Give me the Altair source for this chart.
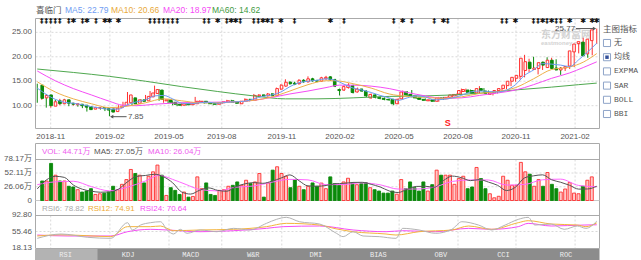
import altair as alt
import pandas as pd

# ---------------- weekly candles (index 0 .. 124) ----------------
opens = [14.2, 11.6, 12.2, 9.9, 11.0, 10.4, 11.2, 10.5, 10.2, 10.3,
         10.1, 9.8, 9.3, 9.5, 9.6, 9.4, 9.3, 8.8, 9.6, 10.0,
         10.6, 11.6, 10.5, 11.2, 11.0, 11.8, 12.5, 13.2, 11.0, 11.2,
         10.7, 10.3, 10.1, 10.4, 10.2, 10.4, 10.8, 10.9, 10.6, 10.4,
         10.3, 10.6, 10.7, 11.0, 10.8, 10.4, 10.9, 11.3, 11.1, 12.0,
         12.2, 12.0, 12.4, 12.1, 13.4, 14.0, 14.8, 14.6, 14.5, 15.2,
         14.9, 15.5, 15.1, 15.0, 15.5, 15.9, 15.3, 13.3, 13.2, 13.7,
         14.1, 12.8, 13.4, 13.0, 11.6, 12.2, 11.7, 11.5, 11.3, 11.3,
         10.4, 11.4, 12.8, 12.3, 12.0, 11.6, 11.3, 11.0, 11.2, 10.9,
         11.6, 11.4, 11.7, 12.0, 12.4, 12.9, 13.2, 13.1, 12.6, 13.5,
         13.0, 12.3, 12.6, 13.1, 13.5, 14.1, 15.0, 15.6, 16.0, 17.2,
         18.9, 17.4, 17.6, 18.9, 17.8, 19.3, 17.7, 17.3, 17.7, 18.1,
         21.0, 22.7, 23.0, 20.6, 23.3]
closes = [11.5, 12.1, 10.0, 10.8, 10.4, 11.2, 10.5, 10.3, 10.4, 10.0,
          9.7, 9.2, 9.6, 9.6, 9.4, 9.1, 8.7, 9.5, 9.9, 10.7,
          12.2, 10.4, 11.2, 10.9, 11.9, 12.6, 13.3, 11.3, 11.2, 10.7,
          10.3, 10.1, 10.4, 10.2, 10.4, 10.9, 10.9, 10.6, 10.4, 10.3,
          10.6, 10.8, 11.0, 10.7, 10.5, 10.9, 11.3, 11.1, 12.1, 12.2,
          12.0, 12.4, 12.1, 13.5, 14.2, 14.8, 14.5, 14.4, 15.2, 14.9,
          15.5, 15.1, 15.0, 15.7, 15.8, 15.3, 14.0, 13.1, 13.9, 14.2,
          12.7, 13.4, 13.0, 12.0, 12.3, 11.7, 11.5, 11.3, 11.2, 10.4,
          11.3, 12.8, 12.2, 11.9, 11.6, 11.3, 11.1, 11.2, 10.9, 11.6,
          11.4, 11.7, 12.2, 12.3, 13.1, 13.3, 12.7, 12.5, 13.5, 13.1,
          12.5, 12.6, 13.1, 13.5, 14.2, 15.0, 15.8, 16.2, 19.7, 19.0,
          17.6, 17.7, 18.8, 18.3, 19.3, 17.6, 17.3, 17.7, 18.0, 21.2,
          22.6, 23.1, 20.2, 23.6, 25.5]
highs = [14.5, 12.6, 12.4, 11.0, 11.2, 11.4, 11.4, 10.7, 10.6, 10.4,
         10.3, 10.0, 9.8, 9.8, 9.7, 9.5, 9.4, 9.6, 10.1, 10.8,
         12.8, 11.8, 11.4, 11.3, 12.2, 13.0, 14.1, 13.4, 11.5, 11.3,
         10.9, 10.5, 10.6, 10.6, 10.5, 11.8, 11.1, 11.0, 10.7, 10.5,
         10.7, 10.9, 11.2, 11.2, 10.9, 11.0, 11.5, 11.4, 12.4, 12.3,
         12.3, 12.6, 12.6, 13.7, 14.4, 15.4, 15.0, 14.9, 15.4, 15.4,
         16.0, 15.7, 15.3, 15.9, 16.1, 16.0, 15.5, 13.5, 14.2, 14.6,
         14.3, 13.7, 13.5, 13.1, 12.5, 12.4, 11.9, 11.7, 11.5, 11.4,
         11.5, 13.1, 13.0, 13.2, 12.1, 11.8, 11.5, 11.3, 11.3, 11.8,
         11.8, 11.9, 12.4, 12.5, 13.5, 13.5, 13.3, 13.2, 14.0, 13.6,
         13.1, 12.8, 13.2, 13.6, 14.4, 15.3, 16.0, 16.4, 20.4, 19.6,
         20.0, 18.6, 19.0, 19.9, 19.8, 19.5, 17.9, 18.0, 18.2, 21.6,
         23.0, 23.9, 23.3, 24.4, 25.77]
lows = [10.6, 11.2, 9.6, 9.6, 10.2, 10.1, 10.3, 9.9, 10.0, 9.8,
        9.5, 8.8, 9.2, 9.3, 9.2, 8.9, 7.85, 8.6, 9.4, 9.9,
        10.4, 10.1, 10.3, 10.7, 10.9, 11.6, 12.3, 11.0, 10.6, 10.5,
        10.1, 9.9, 9.9, 10.0, 10.1, 10.3, 10.6, 10.4, 10.3, 10.1,
        10.2, 10.4, 10.6, 10.6, 10.4, 10.3, 10.8, 10.9, 11.0, 11.8,
        11.8, 11.9, 11.9, 12.0, 13.2, 13.9, 14.3, 14.2, 14.3, 14.7,
        14.7, 14.9, 14.8, 14.9, 15.3, 15.1, 13.8, 12.1, 13.0, 13.5,
        12.5, 12.7, 12.8, 11.8, 11.4, 11.5, 11.3, 11.1, 11.0, 10.1,
        10.3, 11.3, 12.0, 11.7, 11.4, 11.2, 11.0, 10.9, 10.8, 10.8,
        11.2, 11.3, 11.6, 11.9, 12.3, 12.8, 12.5, 12.3, 12.5, 12.9,
        12.3, 12.1, 12.5, 13.0, 13.4, 14.0, 14.9, 15.4, 15.8, 16.9,
        17.3, 16.4, 17.3, 18.0, 17.5, 17.3, 16.3, 17.1, 17.5, 17.9,
        20.7, 22.4, 19.8, 20.3, 22.6]
volumes = [37, 37, 70.4, 48, 37, 37, 27, 25.6, 20.5, 16,
           18, 22.4, 11.5, 12.8, 14, 16, 27, 20.5, 30.7, 39.7,
           58.9, 51.2, 48, 33.3, 46, 54.4, 67.2, 48, 9.6, 24.3,
           19.2, 11.5, 16, 6.4, 7.7, 44.8, 22.4, 33.3, 11.5, 9.6,
           19.2, 20.5, 27, 28.8, 35.2, 28.8, 38.4, 32, 35.2, 51.2,
           6.4, 33.3, 57.6, 64, 51.2, 46, 24.3, 39.7, 27, 20.5,
           27, 33.3, 27, 33, 22.4, 44.8, 32, 28.8, 35.2, 42.2,
           33.3, 30, 32, 33.9, 24.3, 20.5, 17.9, 14, 14, 17.9,
           12, 39.7, 22.4, 35.2, 24.3, 17.9, 35.2, 17.9, 30, 57.6,
           48, 48, 48, 30.7, 41.6, 46, 22.4, 25.6, 62.7, 41.6,
           22.4, 12.8, 5.1, 8, 46, 38.4, 28.8, 28.8, 72.3, 54.4,
           49.9, 27, 39.7, 27, 53.1, 30.7, 22.4, 16, 21.8, 34,
           14, 12.8, 27, 38.4, 44.8]

# ---------------- moving averages / indicators ----------------
ma5_idx = [0, 2, 4, 6, 8, 10, 12, 14, 16, 18, 20, 22, 24, 26, 28, 30, 32, 34, 36, 38, 40,
           42, 44, 46, 48, 50, 52, 54, 56, 58, 60, 62, 64, 66, 68, 70, 72, 74, 76, 78, 80,
           82, 84, 86, 88, 90, 92, 94, 96, 98, 100, 102, 104, 106, 108, 110, 112, 114, 116,
           118, 120, 122, 124]
ma5_val = [13.6, 12.3, 11.3, 10.7, 10.5, 10.2, 9.8, 9.5, 9.3, 9.3, 10.2, 10.8, 11.2, 12.0,
           12.1, 11.4, 10.5, 10.4, 10.6, 10.7, 10.5, 10.7, 10.8, 10.9, 11.4, 11.9, 12.2,
           12.8, 13.9, 14.7, 15.0, 15.2, 15.5, 15.2, 14.4, 13.6, 13.2, 12.7, 12.1, 11.6,
           11.1, 11.6, 12.0, 11.8, 11.2, 11.3, 11.6, 12.1, 12.8, 13.0, 12.9, 12.8, 13.2,
           14.3, 16.2, 17.3, 18.6, 18.5, 18.3, 18.0, 19.4, 21.0, 22.79]
ma10_idx = [0, 4, 8, 12, 16, 20, 24, 28, 32, 36, 40, 44, 48, 52, 56, 60, 64, 66, 70, 74,
            78, 82, 86, 90, 94, 98, 102, 106, 110, 114, 118, 121, 124]
ma10_val = [14.9, 12.8, 11.4, 10.4, 9.6, 9.9, 10.6, 11.4, 11.0, 10.6, 10.6, 10.8, 11.1,
            11.8, 13.0, 14.3, 15.1, 15.1, 14.5, 13.6, 12.4, 11.9, 11.7, 11.5, 11.8, 12.5,
            12.9, 13.7, 15.5, 17.4, 17.9, 18.9, 20.66]
ma20_idx = [0, 4, 8, 12, 16, 19, 22, 26, 32, 38, 44, 48, 52, 56, 60, 64, 67, 70, 74, 78,
            82, 86, 90, 94, 98, 102, 106, 110, 114, 118, 121, 124]
ma20_val = [17.1, 15.1, 13.5, 12.2, 10.9, 10.1, 10.0, 10.3, 10.6, 10.7, 10.8, 11.1, 11.7,
            12.4, 13.0, 13.7, 14.2, 14.2, 14.0, 13.5, 12.7, 12.0, 11.5, 11.6, 12.1, 12.6,
            13.2, 14.3, 15.6, 16.7, 17.8, 18.97]
ma60_idx = [0, 8, 16, 24, 32, 40, 48, 55, 62, 70, 78, 86, 92, 100, 107, 114, 120, 124]
ma60_val = [17.5, 16.8, 16.0, 15.0, 13.9, 12.9, 12.0, 11.4, 11.4, 11.6, 11.9, 12.0, 12.2,
            12.7, 13.3, 13.8, 14.3, 14.62]

vma5_idx = [0, 2, 4, 6, 8, 10, 12, 14, 16, 18, 20, 22, 24, 26, 28, 30, 32, 34, 36, 38, 40,
            42, 44, 46, 48, 50, 52, 54, 56, 58, 60, 62, 64, 66, 68, 70, 72, 74, 76, 78, 80,
            82, 84, 86, 88, 90, 92, 94, 96, 98, 100, 102, 104, 106, 108, 110, 112, 114, 116,
            118, 120, 122, 124]
vma5_val = [22, 38.9, 45.9, 43.9, 29.4, 21.4, 17.7, 15.7, 16.3, 21.6, 35.4, 45.7, 47.5,
            49.8, 45.0, 33.7, 16.1, 12.2, 19.5, 23.9, 19.2, 17.6, 26.1, 31.6, 33.9, 32.6,
            36.7, 42.5, 48.6, 37.6, 27.7, 27.0, 28.5, 31.8, 32.6, 34.3, 34.5, 30.7, 25.7,
            18.1, 15.2, 21.2, 26.7, 27.0, 25.1, 37.7, 46.3, 43.3, 37.7, 39.7, 34.9, 28.9,
            18.9, 25.3, 42.9, 46.8, 48.7, 39.3, 34.6, 28.8, 21.6, 21.9, 27.05]
vma10_idx = [0, 4, 8, 12, 16, 20, 24, 27, 30, 33, 36, 40, 44, 48, 52, 56, 60, 64, 68, 72,
             76, 80, 84, 88, 92, 96, 100, 104, 108, 112, 116, 120, 124]
vma10_val = [30, 35.4, 36.5, 26.3, 18.4, 25.4, 37.1, 47.7, 40.1, 30.3, 21.0, 18.2, 25.2,
             27.5, 34.7, 40.1, 39.1, 30.0, 30.4, 33.4, 29.8, 21.7, 21.8, 25.3, 36.2, 39.0,
             38.9, 29.3, 30.4, 39.3, 40.5, 28.6, 26.04]

rsi6_idx = [0, 5.3, 11.2, 16.3, 20, 21.1, 22.9, 25.1, 27.3, 28.8, 30.2, 31.7, 33.2, 36.1,
            39.8, 43.5, 47.1, 50.8, 53, 55.2, 58.1, 62.6, 66.3, 67.8, 70, 72.2, 75.8, 79.5,
            81, 84.6, 88.3, 91.9, 94.1, 97.8, 100.7, 103.7, 106.6, 108.8, 110.3, 113.9,
            116.8, 119.7, 121.6, 124]
rsi6_val = [40.0, 49.8, 42.3, 40.0, 75.4, 58.9, 70.1, 75.4, 77.6, 58.9, 49.8, 60.4, 51.4,
            58.9, 55.0, 62.6, 58.9, 73.9, 82.9, 87.5, 77.6, 72.4, 51.4, 43.8, 55.0, 45.3,
            43.8, 40.0, 62.6, 58.9, 51.4, 60.4, 77.6, 70.1, 58.9, 70.1, 82.9, 87.5, 70.1,
            72.4, 60.4, 67.9, 62.6, 78.82]
rsi12_idx = [0, 5, 11, 16.3, 20, 25.1, 27.3, 30.2, 36.1, 43.5, 50.8, 55.2, 62.6, 66, 70,
             77.3, 79.5, 84.6, 91.9, 95.6, 100.7, 106.6, 108.8, 113.9, 119.7, 121.6, 124]
rsi12_val = [45.3, 48.0, 46.0, 43.8, 66.4, 66.4, 67.9, 57.3, 58.9, 60.4, 66.4, 73.9, 70.1,
             62.0, 55.0, 49.8, 47.5, 55.0, 58.9, 67.9, 60.4, 75.4, 79.9, 72.4, 70.1, 66.4,
             74.91]
rsi24_idx = [0, 6.8, 16.3, 20, 25.1, 28.8, 36.1, 43.5, 50.8, 54.5, 62.6, 70, 77.3, 81,
             88.3, 95.6, 100.7, 106.6, 108.8, 113.9, 121.2, 124]
rsi24_val = [47.5, 45.3, 45.3, 55.0, 60.4, 58.9, 55.0, 57.3, 62.6, 66.4, 67.9, 58.9, 55.0,
             57.3, 55.0, 62.6, 60.4, 66.4, 73.9, 67.9, 70.1, 70.64]

# ---------------- ticks, labels, flags ----------------
price_ticks = [10, 15, 20, 25]
price_tick_labels = ["10.00", "15.00", "20.00", "25.00"]
vol_ticks = [0, 26.06, 52.11, 78.17]
vol_tick_labels = ["0", "26.06万", "52.11万", "78.17万"]
rsi_ticks = [18.13, 55.46, 92.80]
rsi_tick_labels = ["18.13", "55.46", "92.80"]
month_pos = [2.98, 16.1, 29.2, 40.9, 54.2, 67.1, 80.2, 93.25, 106.1, 119.2]
month_labels = ["2018-11", "2019-02", "2019-05", "2019-08", "2019-11",
                "2020-02", "2020-05", "2020-08", "2020-11", "2021-02"]
flag_narrow = [1, 2, 3, 4, 5, 7, 10, 13, 25, 26, 27, 28, 29, 30, 31, 37, 38, 42, 45, 48,
               49, 52, 57, 68, 79, 83, 88, 91, 103, 104, 110, 111, 113, 115, 116]
flag_star = [8, 11, 15, 16, 18, 40, 43, 44, 50, 51, 54, 65, 81, 90, 106, 112, 114, 118,
             121, 123, 124]
low_idx, low_val = 16, 7.85
high_idx, high_val = 124, 25.77
sell_idx, sell_level = 91, 6.45
tabs = ["RSI", "KDJ", "MACD", "W&R", "DMI", "BIAS", "OBV", "CCI", "ROC"]
options = ["无", "均线", "EXPMA", "SAR", "BOLL", "BBI"]
checked = ["均线"]

# ---------------- layout / style ----------------
FONT = "'Liberation Sans', 'Noto Sans CJK SC', sans-serif"
CJK = "'Noto Sans CJK SC', sans-serif"
MONO = "'Liberation Mono', monospace"
UP, DOWN = "#ff3030", "#0b8a0b"
TXT = "#555555"
GRID = "#d9d9d9"
FRAME = "#aaaaaa"
XL, XR = 35.5, 599.5
P_TOP, P_BOT = 18.5, 128.5
V_TOP, V_BOT = 159.5, 200.5
R_TOP, R_BOT = 215.5, 248.5
BOX_TOP = 143.5
N = len(opens)

XS = alt.Scale(domain=[-0.5, N - 0.5], range=[35, 599], nice=False, zero=False)
PS = alt.Scale(domain=[5.44, 27.87], range=[128, 18.3], nice=False, zero=False)
VS = alt.Scale(domain=[0, 78.17], range=[200.5, 159.3], nice=False)
RS = alt.Scale(domain=[18.13, 92.80], range=[248, 215], nice=False, zero=False)

candles = pd.DataFrame({"i": list(range(N)), "o": opens, "h": highs, "l": lows,
                        "c": closes, "vol": volumes})
one = pd.DataFrame({"k": [0]})


def X(field="i"):
    return alt.X(f"{field}:Q", scale=XS, axis=None)


def Y(field, sc):
    return alt.Y(f"{field}:Q", scale=sc, axis=None)


def box(x1, x2, y1, y2, **mk):
    return alt.Chart(one).mark_rect(**mk).encode(
        x=alt.value(x1), x2=alt.value(x2), y=alt.value(y1), y2=alt.value(y2))


def hline(y, color=FRAME, x1=XL, x2=XR, **mk):
    return alt.Chart(one).mark_rule(color=color, strokeWidth=1, **mk).encode(
        x=alt.value(x1), x2=alt.value(x2), y=alt.value(y))


def label(text, x, y, color=TXT, size=8, align="left", font=FONT, **kw):
    return alt.Chart(one).mark_text(text=text, align=align, baseline="middle",
                                    fontSize=size, color=color, font=font, **kw).encode(
        x=alt.value(x), y=alt.value(y))


def line(idx, vals, sc, color, width=1):
    df = pd.DataFrame({"i": idx, "v": vals})
    return alt.Chart(df).mark_line(color=color, strokeWidth=width,
                                   interpolate="monotone").encode(x=X(), y=Y("v", sc))


layers = []

# ---- grids ----
months = pd.DataFrame({"i": month_pos, "t": month_labels})
for y1, y2 in [(P_TOP, P_BOT), (V_TOP, V_BOT), (R_TOP, R_BOT)]:
    layers.append(alt.Chart(months).mark_rule(color=GRID, strokeDash=[2, 2]).encode(
        x=X(), y=alt.value(y1), y2=alt.value(y2)))
ptk = pd.DataFrame({"v": price_ticks, "t": price_tick_labels})
vtk = pd.DataFrame({"v": vol_ticks, "t": vol_tick_labels})
rtk = pd.DataFrame({"v": rsi_ticks, "t": rsi_tick_labels})
for df, sc in [(ptk, PS), (vtk[(vtk.v > 0) & (vtk.v < 78)], VS), (rtk[(rtk.v > 20) & (rtk.v < 90)], RS)]:
    layers.append(alt.Chart(df).mark_rule(color=GRID, strokeDash=[2, 2]).encode(
        y=Y("v", sc), x=alt.value(XL), x2=alt.value(XR)))

# ---- frames ----
layers.append(box(XL, XR, P_TOP, P_BOT, fill="white", fillOpacity=0, stroke=FRAME, strokeWidth=1))
layers.append(box(XL, XR, BOX_TOP, R_BOT, fill="white", fillOpacity=0, stroke=FRAME, strokeWidth=1))
layers.append(hline(V_TOP))
layers.append(hline(V_BOT, color="#c8c8c8"))
layers.append(hline(R_TOP))

# ---- watermark ----
layers.append(label("东方财富网", 541, 34.5, color="#d2d2d2", size=10, font=CJK, fontWeight="bold"))
layers.append(label("eastmoney.com", 541, 43, color="#d2d2d2", size=6, font=FONT, fontWeight="bold"))

# ---- candles ----
cbase = alt.Chart(candles).transform_calculate(
    lo="min(datum.o, datum.c)",
    hi="max(datum.o, datum.c) + (abs(datum.c - datum.o) < 0.06 ? 0.06 : 0)",
    col=f"datum.c >= datum.o ? '{UP}' : '{DOWN}'",
    fillc=f"datum.c >= datum.o ? '#fff3f3' : '{DOWN}'",
    vfill=f"datum.c >= datum.o ? '#ffc9c9' : '{DOWN}'",
)
layers.append(cbase.mark_rule(strokeWidth=1).encode(
    x=X(), y=Y("l", PS), y2="h:Q", color=alt.Color("col:N", scale=None)))
layers.append(cbase.mark_bar(size=2.6, strokeWidth=1).encode(
    x=X(), y=Y("lo", PS), y2="hi:Q",
    fill=alt.Fill("fillc:N", scale=None), stroke=alt.Stroke("col:N", scale=None)))

# ---- price moving averages ----
layers.append(line(ma60_idx, ma60_val, PS, "#4fa84f"))
layers.append(line(ma20_idx, ma20_val, PS, "#f54cf5"))
layers.append(line(ma10_idx, ma10_val, PS, "#eeb04a"))
layers.append(line(ma5_idx, ma5_val, PS, "#6f9cf2"))

# ---- flags on top row ----
layers.append(alt.Chart(pd.DataFrame({"i": flag_narrow})).mark_text(
    text="‡", fontSize=7, fontWeight="bold", color="#111111", font="'DejaVu Sans'",
    baseline="middle").encode(x=X(), y=alt.value(20.5)))
layers.append(alt.Chart(pd.DataFrame({"i": flag_star})).mark_text(
    text="✱", fontSize=7, color="#111111", font="'DejaVu Sans'",
    baseline="middle").encode(x=X(), y=alt.value(20.5)))

# ---- annotations ----
lowdf = pd.DataFrame({"a": [low_idx + 0.5], "b": [low_idx + 3.8], "t": [low_idx + 4.1],
                      "v": [low_val - 0.1], "s": [f"{low_val:.2f}"]})
layers.append(alt.Chart(lowdf).mark_rule(color="#555555").encode(
    x=X("a"), x2="b:Q", y=Y("v", PS)))
layers.append(alt.Chart(lowdf).mark_point(shape="triangle-left", size=14, filled=True,
                                          color="#555555", opacity=1).encode(x=X("a"), y=Y("v", PS)))
layers.append(alt.Chart(lowdf).mark_text(align="left", baseline="middle", fontSize=8,
                                         color=TXT, font=FONT).encode(
    x=X("t"), y=Y("v", PS), text="s:N"))
hidf = pd.DataFrame({"a": [high_idx - 4.6], "b": [high_idx - 0.5], "t": [high_idx - 4.8],
                     "v": [high_val], "s": [f"{high_val:.2f}"]})
layers.append(alt.Chart(hidf).mark_rule(color="#555555").encode(
    x=X("a"), x2="b:Q", y=Y("v", PS)))
layers.append(alt.Chart(hidf).mark_point(shape="triangle-right", size=14, filled=True,
                                         color="#555555", opacity=1).encode(x=X("b"), y=Y("v", PS)))
layers.append(alt.Chart(hidf).mark_text(align="right", baseline="middle", fontSize=8,
                                        color=TXT, font=FONT).encode(
    x=X("t"), y=Y("v", PS), text="s:N"))
layers.append(alt.Chart(pd.DataFrame({"i": [sell_idx], "v": [sell_level]})).mark_text(
    text="S", fontSize=9, fontWeight="bold", color="#ff2020", font=FONT,
    baseline="middle").encode(x=X(), y=Y("v", PS)))

# ---- volume ----
layers.append(cbase.mark_bar(size=3, strokeWidth=0.9).encode(
    x=X(), y=Y("vol", VS),
    fill=alt.Fill("vfill:N", scale=None), stroke=alt.Stroke("col:N", scale=None)))
layers.append(line(vma10_idx, vma10_val, VS, "#ff66ff"))
layers.append(line(vma5_idx, vma5_val, VS, "#555555"))

# ---- RSI ----
layers.append(line(rsi24_idx, rsi24_val, RS, "#f54cf5"))
layers.append(line(rsi12_idx, rsi12_val, RS, "#f3b43c"))
layers.append(line(rsi6_idx, rsi6_val, RS, "#b4b4b4"))

# ---- axis labels ----
for df, sc in [(ptk, PS), (vtk, VS), (rtk, RS)]:
    layers.append(alt.Chart(df).mark_text(align="right", baseline="middle", fontSize=8,
                                          color=TXT, font=FONT).encode(
        x=alt.value(32), y=Y("v", sc), text="t:N"))
layers.append(alt.Chart(months).mark_text(baseline="middle", fontSize=8, color=TXT,
                                          font=FONT).encode(
    x=X(), y=alt.value(137), text="t:N"))

# ---- legends ----
for text, x, color in [("喜临门", 36, TXT), ("MA5: 22.79", 65, "#6f9cf2"),
                       ("MA10: 20.66", 111, "#e8a93a"), ("MA20: 18.97", 163, "#f54cf5"),
                       ("MA60: 14.62", 212, "#3f9a3f")]:
    layers.append(label(text, x, 10, color=color, size=8.5))
for text, x, color in [("VOL: 44.71万", 42, "#ee5cee"), ("MA5: 27.05万", 94, "#555555"),
                       ("MA10: 26.04万", 148, "#ee5cee")]:
    layers.append(label(text, x, 151.5, color=color))
for text, x, color in [("RSI6: 78.82", 42, "#aaaaaa"), ("RSI12: 74.91", 88, "#eeaa33"),
                       ("RSI24: 70.64", 140, "#f54cf5")]:
    layers.append(label(text, x, 209, color=color))

# ---- indicator tabs ----
layers.append(box(XL - 0.5, XR, 249, 260, fill="#8c8c8c"))
layers.append(box(XL - 0.5, 97.5, 249, 260, fill="#b3b3b3"))
layers.append(alt.Chart(pd.DataFrame({"t": tabs})).mark_text(
    fontSize=7, color="#eeeeee", font=MONO, baseline="middle").encode(
    x=alt.X("t:N", sort=None, axis=None,
            scale=alt.Scale(type="point", domain=tabs, range=[65.6, 566], padding=0)),
    y=alt.value(254.5), text="t:N"))

# ---- right-hand option panel ----
layers.append(label("主图指标", 603, 29, color=TXT, size=8.5, font=CJK))
opt = pd.DataFrame({"t": options, "on": [o in checked for o in options]})
OYS = alt.Scale(type="point", domain=options, range=[43, 114], padding=0)
layers.append(alt.Chart(opt).mark_square(size=50, filled=False, color="#8ea4c8",
                                         strokeWidth=1, opacity=1).encode(
    x=alt.value(607), y=alt.Y("t:N", sort=None, axis=None, scale=OYS)))
layers.append(alt.Chart(opt[opt.on]).mark_square(size=12, filled=True, color="#34509a",
                                                 opacity=1).encode(
    x=alt.value(607), y=alt.Y("t:N", sort=None, axis=None, scale=OYS)))
layers.append(alt.Chart(opt).mark_text(align="left", baseline="middle", fontSize=8,
                                       color=TXT, font="'Liberation Mono', 'Noto Sans CJK SC', monospace").encode(
    x=alt.value(614), y=alt.Y("t:N", sort=None, axis=None, scale=OYS), text="t:N"))

chart = alt.layer(*layers).resolve_scale(
    x="independent", y="independent"
).properties(
    width=641, height=260, padding=0,
    autosize=alt.AutoSizeParams(type="none"),
    background="white",
).configure_view(stroke=None)

chart.save("out.html", embed_options={"renderer": "svg", "actions": False})
